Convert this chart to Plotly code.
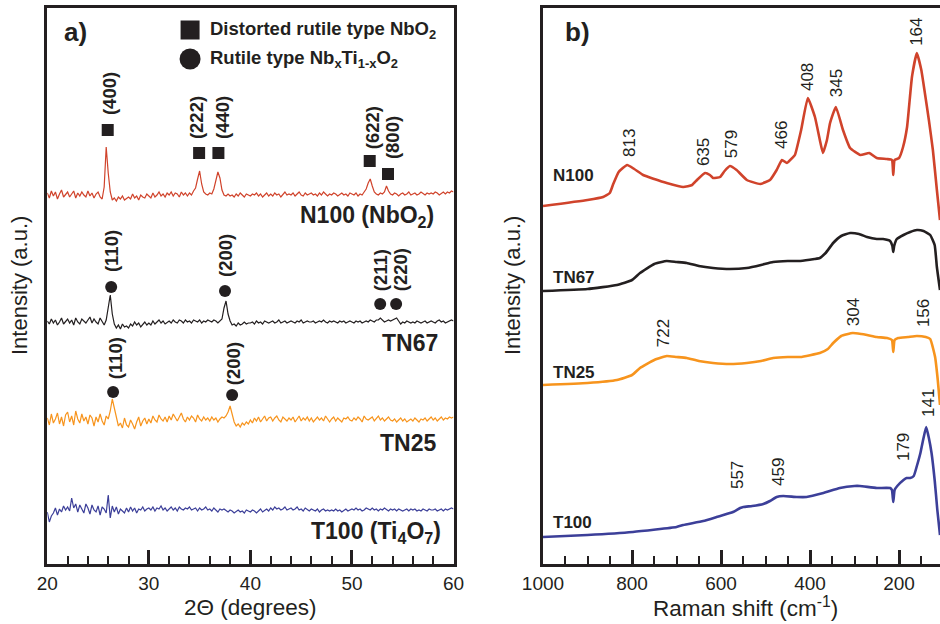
import plotly.graph_objects as go

FONT = "Liberation Sans, Arial, sans-serif"
INK = "#231f20"
RED = "#d0432b"
ORANGE = "#f7941d"
BLUE = "#3c3f99"

# ---------------- XRD (panel a) ----------------
two_theta = [round(20 + 0.2 * i, 1) for i in range(201)]

n100_xrd = [2,-3,4,-1,3,-4,1,5,-2,0,
            3,-2,1,4,-3,2,-1,3,0,-2,
            4,-1,2,-3,1,3,-2,-4,8,48,
            22,3,-5,-3,-6,-2,-4,-1,-5,-3,
            -2,-4,1,-3,-1,-5,0,-2,-3,1,
            -1,-3,2,-2,0,3,-1,1,-2,2,
            0,3,-1,2,1,-2,3,0,2,-1,
            2,0,4,7,16,24,11,3,1,0,
            2,1,6,16,23,17,5,0,-1,1,
            -1,0,-2,1,-1,2,0,-2,1,0,
            -1,1,0,2,-1,1,-2,0,2,-1,
            1,-1,2,0,1,-2,1,3,0,1,
            0,2,-1,1,3,0,-1,2,0,1,
            2,0,1,-1,2,0,3,1,-1,1,
            0,2,1,-1,1,2,0,1,-1,2,
            1,0,2,-1,1,0,3,6,12,16,
            9,3,1,0,2,1,3,9,4,1,
            0,2,1,-1,1,2,0,1,3,0,
            1,2,0,1,3,1,0,2,1,2,
            1,3,2,0,2,3,1,3,2,4,
            3]

tn67_xrd = [1,-2,3,-1,2,-3,0,4,-2,1,
            3,-1,2,-3,4,0,-2,3,1,-1,
            2,5,-1,3,0,-2,4,1,-3,2,
            14,27,8,-2,-6,-3,-7,-2,-5,-4,
            -6,-2,-4,0,-3,-1,-5,-2,0,-3,
            -1,-3,1,-2,0,2,-1,1,-2,0,
            1,-1,2,0,-1,2,1,-1,2,0,
            1,-1,2,1,0,2,-1,1,0,2,
            1,0,2,1,-1,1,3,14,21,8,
            1,-3,-2,-4,-1,-3,-2,0,-2,-1,
            -1,0,-2,1,-1,0,-2,1,0,-1,
            0,1,-1,0,2,-1,0,1,-1,0,
            1,0,-1,1,0,2,-1,0,1,0,
            0,1,-1,0,1,0,2,0,-1,1,
            0,1,0,-1,1,0,1,-1,0,1,
            0,-1,1,0,1,-1,0,1,0,2,
            1,0,2,2,4,2,0,1,2,1,
            2,3,4,1,-2,0,-1,1,0,-1,
            0,-1,1,0,-1,0,1,-1,0,1,
            0,-1,1,2,0,1,-1,0,1,2,
            1]

tn25_xrd = [2,-5,6,-3,1,7,-4,3,-6,5,
            8,-2,4,-5,9,1,-3,6,-1,3,
            -4,5,2,-6,3,-2,6,-1,-5,4,
            1,9,21,12,0,-6,-3,-8,2,-5,
            -7,0,-4,-9,-2,3,-6,-1,2,-4,
            1,-3,4,0,-2,5,1,-1,3,-2,
            4,0,6,2,-1,3,7,1,-2,3,
            0,4,2,-2,5,1,-1,3,0,2,
            -1,3,0,2,-2,1,3,2,4,8,
            14,6,-2,-6,-4,-7,-3,-5,-2,-4,
            0,-3,2,-1,3,-2,1,4,-1,2,
            3,-1,2,4,0,-2,3,1,-1,2,
            0,3,-2,1,4,-1,2,0,3,-1,
            2,-2,1,3,0,2,-1,4,1,-2,
            1,3,-1,2,0,-2,2,1,3,0,
            -1,2,0,3,1,-2,4,1,0,2,
            3,-1,1,4,0,2,-1,1,3,0,
            -1,1,-2,0,2,-1,1,-2,0,1,
            -1,2,0,-2,1,0,2,-1,1,3,
            0,2,-1,1,3,0,2,1,3,2,
            3]

t100_xrd = [-2,-12,-6,-3,2,-5,1,-2,4,0,
            3,-1,12,2,6,-2,5,1,-3,6,
            2,-4,5,0,-2,4,-5,3,1,-3,
            15,-8,4,-2,3,-4,1,-1,-3,2,
            -2,3,-1,2,-3,1,0,3,-1,1,
            2,0,3,-1,2,1,4,0,2,-1,
            1,3,0,2,-1,3,1,0,2,1,
            3,0,1,2,-1,2,0,1,3,0,
            1,-1,2,0,-2,1,0,1,-1,-2,
            0,-1,-3,-1,0,-2,-1,-3,0,-1,
            -2,0,-1,-3,-1,1,-2,0,1,-1,
            2,0,3,1,2,0,1,3,0,1,
            2,0,1,3,0,1,-1,2,0,-1,
            1,0,-1,1,-2,0,1,-1,0,-1,
            0,-1,1,-1,0,-2,0,1,-1,0,
            1,0,2,0,1,-1,0,2,1,0,
            2,0,1,-1,1,0,2,0,-1,1,
            0,1,-1,1,0,-1,0,1,-1,1,
            0,1,-1,0,-1,1,0,-1,1,0,
            0,1,-1,0,1,-1,1,0,1,2,
            1]

xrd_names = ["N100", "TN67", "TN25", "T100"]
xrd_series = [n100_xrd, tn67_xrd, tn25_xrd, t100_xrd]
xrd_offsets = [369, 242, 144, 54]
xrd_colors = [RED, INK, ORANGE, BLUE]
xrd_labels = ["N100 (NbO<sub>2</sub>)", "TN67", "TN25", "T100 (Ti<sub>4</sub>O<sub>7</sub>)"]
xrd_label_x = [58.3, 58.7, 58.5, 59.0]
xrd_label_y = [347, 221, 121, 32]

# reflections: marker position/height, label text and label position
refl_x = [25.95, 34.95, 36.85, 51.75, 53.55, 26.29, 37.5, 52.78, 54.35, 26.48, 38.2]
refl_y = [434, 411, 411, 403, 390, 277, 273, 260, 260, 172, 169]
refl_sym = ["square"] * 5 + ["circle"] * 6
refl_text = ["(400)", "(222)", "(440)", "(622)", "(800)",
             "(110)", "(200)", "(211)", "(220)", "(110)", "(200)"]
refl_tx = [26.18, 34.75, 37.3, 52.1, 54.05, 26.38, 37.6, 52.78, 54.75, 26.68, 38.3]
refl_ty = [470, 446, 447, 436, 426, 313, 308, 294, 294, 206, 200]

# ---------------- Raman (panel b) ----------------
n100_w = [1000, 900, 865, 850, 843, 830, 811, 795, 775, 750, 722, 685, 665, 654, 636, 625,
          618, 602, 592, 580, 565, 542, 512, 490, 475, 463, 452, 440, 434, 420, 405, 389,
          378, 371, 362, 355, 342, 326, 310, 287, 267, 250, 227, 216, 213, 210, 200, 191,
          182, 171, 160, 150, 142, 133, 124, 115, 108]
n100_i = [358, 364, 367, 371, 379, 392, 399, 395, 389, 385, 381, 377, 379, 384, 391, 389,
          386, 387, 393, 398, 394, 384, 380, 384, 394, 404, 401, 406, 409, 434, 466, 447,
          424, 411, 424, 441, 457, 434, 416, 409, 411, 406, 405, 404, 389, 404, 406, 417,
          437, 487, 511, 494, 471, 444, 414, 374, 344]

tn67_w = [1000, 900, 834, 800, 782, 750, 722, 700, 677, 650, 618, 580, 542, 510, 483, 450,
          422, 390, 378, 365, 348, 330, 310, 290, 272, 250, 236, 220, 215, 213, 211, 205,
          190, 175, 160, 145, 130, 120, 115, 108]
tn67_i = [273, 275, 279, 284, 291, 300, 303, 302, 301, 298, 296, 295, 296, 299, 302, 303,
          303, 305, 306, 311, 321, 328, 331, 330, 327, 325, 325, 323, 318, 312, 318, 325,
          329, 332, 334, 333, 329, 319, 297, 274]

tn25_w = [1000, 900, 834, 800, 782, 750, 722, 700, 677, 650, 618, 580, 542, 510, 483, 450,
          422, 378, 360, 348, 330, 304, 285, 272, 250, 227, 216, 213, 210, 202, 180, 160,
          140, 130, 119, 113, 108]
tn25_i = [179, 181, 184, 189, 196, 204, 208, 207, 206, 203, 201, 200, 201, 203, 206, 207,
          207, 211, 215, 221, 228, 231, 230, 229, 227, 226, 224, 212, 224, 226, 227, 228,
          227, 225, 207, 184, 159]

t100_w = [1000, 900, 798, 700, 685, 640, 610, 573, 557, 550, 530, 505, 490, 475, 460, 430,
          408, 370, 333, 300, 288, 250, 220, 216, 213, 210, 204, 190, 183, 175, 167, 160,
          152, 145, 139, 133, 127, 120, 114, 108]
t100_i = [27, 29, 32, 37, 39, 43, 47, 52, 56, 57, 58, 60, 63, 67, 68, 67,
          67, 71, 76, 78, 78, 76, 76, 74, 62, 74, 78, 84, 86, 86, 88, 98,
          111, 126, 137, 126, 111, 84, 54, 29]

raman_w = [n100_w, tn67_w, tn25_w, t100_w]
raman_i = [n100_i, tn67_i, tn25_i, t100_i]
raman_colors = [RED, INK, ORANGE, BLUE]
raman_label_y = [388, 287, 192, 42]
raman_label_x = 982

band_text = ["813", "635", "579", "466", "408", "345", "164",
             "722", "304", "156", "557", "459", "179", "141"]
band_x = [804.5, 638, 575, 463, 404.5, 339, 160, 730, 303, 146, 564, 472, 191, 135]
band_y = [421, 412, 420, 429, 487, 481, 532, 231, 252, 251, 89, 92, 117, 161]

# legend entries for panel a
legend_sym = ["square", "circle"]
legend_text = ["Distorted rutile type NbO<sub>2</sub>",
               "Rutile type Nb<sub>x</sub>Ti<sub>1-x</sub>O<sub>2</sub>"]
legend_x = 34.06
legend_y = [534, 505]
legend_tx = 35.84

fig = go.Figure()

for ys, off, col in zip(xrd_series, xrd_offsets, xrd_colors):
    fig.add_trace(go.Scatter(x=two_theta, y=[v + off for v in ys], mode="lines",
                             line=dict(color=col, width=1.2), xaxis="x", yaxis="y",
                             showlegend=False, hoverinfo="skip"))

fig.add_trace(go.Scatter(x=refl_x, y=refl_y, mode="markers",
                         marker=dict(symbol=refl_sym, size=12, color=INK, opacity=1,
                                     line=dict(width=0)),
                         xaxis="x", yaxis="y", showlegend=False, hoverinfo="skip"))
fig.add_trace(go.Scatter(x=[legend_x, legend_x], y=legend_y, mode="markers",
                         marker=dict(symbol=legend_sym, size=[19, 21], color=INK, opacity=1,
                                     line=dict(width=0)),
                         xaxis="x", yaxis="y", showlegend=False, hoverinfo="skip"))

for w, iv, col in zip(raman_w, raman_i, raman_colors):
    fig.add_trace(go.Scatter(x=w, y=iv, mode="lines",
                             line=dict(color=col, width=2.6, shape="spline", smoothing=0.4),
                             xaxis="x2", yaxis="y2", showlegend=False, hoverinfo="skip"))


def note(x, y, text, xref, yref, size, bold=False, angle=0, xanchor="center"):
    f = dict(family=FONT, size=size, color=INK)
    if bold:
        f["weight"] = "bold"
    return dict(x=x, y=y, xref=xref, yref=yref, text=text, textangle=angle, showarrow=False,
                xanchor=xanchor, yanchor="middle", font=f)


ann = []
for t, tx, ty in zip(refl_text, refl_tx, refl_ty):
    ann.append(note(tx, ty, t, "x", "y", 18.5, bold=True, angle=-90))
for t, lx, ly in zip(xrd_labels, xrd_label_x, xrd_label_y):
    ann.append(note(lx, ly, t, "x", "y", 23, bold=True, xanchor="right"))
for t, ly in zip(legend_text, legend_y):
    ann.append(note(legend_tx, ly, t, "x", "y", 18.5, bold=True, xanchor="left"))
for t, bx, by in zip(band_text, band_x, band_y):
    ann.append(note(bx, by, t, "x2", "y2", 17, angle=-90))
for t, ly in zip(xrd_names, raman_label_y):
    ann.append(note(raman_label_x, ly, t, "x2", "y2", 17, bold=True, xanchor="left"))

ann += [
    note(62 / 940, 1 - 32 / 624, "a)", "paper", "paper", 26, bold=True, xanchor="left"),
    note(563 / 940, 1 - 32 / 624, "b)", "paper", "paper", 26, bold=True, xanchor="left"),
    note(20 / 940, 1 - 286 / 624, "Intensity (a.u.)", "paper", "paper", 22, angle=-90),
    note(513 / 940, 1 - 286 / 624, "Intensity (a.u.)", "paper", "paper", 22, angle=-90),
    note(250 / 940, 1 - 607 / 624, "2\u0398 (degrees)", "paper", "paper", 22.5),
    note(745 / 940, 1 - 607 / 624, "Raman shift (cm<sup>-1</sup>)", "paper", "paper", 22.5),
]

axis_common = dict(showline=True, linewidth=3, linecolor=INK, showgrid=False, zeroline=False,
                   automargin=False)

fig.update_layout(
    width=940, height=624, margin=dict(l=0, r=0, t=0, b=0, autoexpand=False),
    paper_bgcolor="white", plot_bgcolor="white", showlegend=False,
    xaxis=dict(domain=[47.3 / 940, 453.5 / 940], range=[20, 60], anchor="y", mirror=True,
               ticks="inside", ticklen=14, tickwidth=2.5, tickcolor=INK, tick0=20, dtick=10,
               minor=dict(ticks="inside", ticklen=8, tickwidth=1.5, tickcolor=INK, dtick=2,
                          tick0=20, showgrid=False),
               tickfont=dict(family=FONT, size=19, color=INK), **axis_common),
    yaxis=dict(domain=[60 / 624, 616 / 624], range=[0, 556], anchor="x", mirror=True,
               showticklabels=False, ticks="", **axis_common),
    xaxis2=dict(domain=[543 / 940, 1.0], range=[1000, 108], anchor="y2", mirror=True,
                ticks="inside", ticklen=14, tickwidth=2.5, tickcolor=INK, tick0=0, dtick=200,
                minor=dict(ticks="inside", ticklen=8, tickwidth=1.5, tickcolor=INK, dtick=50,
                           tick0=0, showgrid=False),
                tickfont=dict(family=FONT, size=19, color=INK), **axis_common),
    yaxis2=dict(domain=[60 / 624, 616 / 624], range=[0, 556], anchor="x2", mirror=False,
                showticklabels=False, ticks="", **axis_common),
    annotations=ann,
)

fig.write_html("out.html", config={"displayModeBar": False},
               post_script="document.body.style.margin='0';")
